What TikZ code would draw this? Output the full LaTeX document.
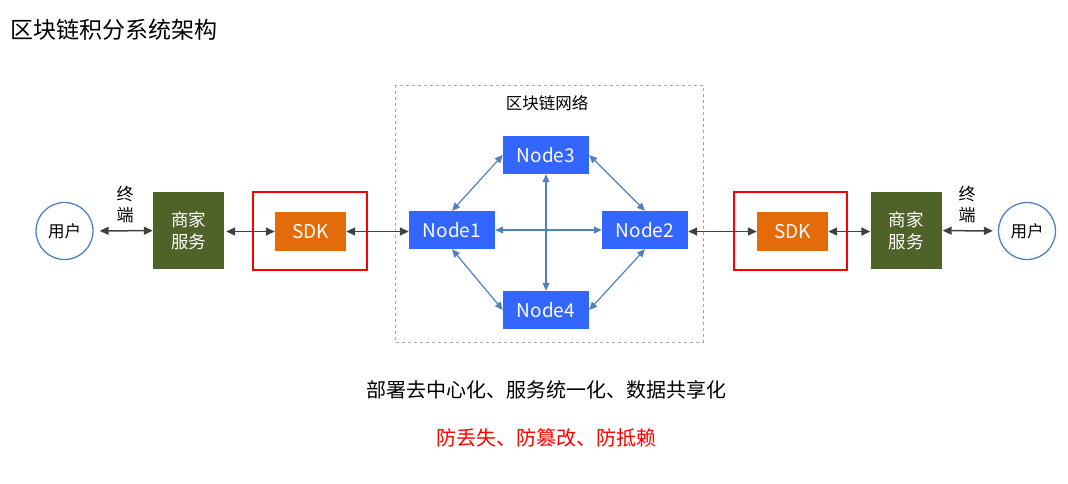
\documentclass[tikz,border=0pt]{standalone}
\usepackage{fontspec}
\setmainfont{Noto Sans CJK SC}
\usetikzlibrary{arrows.meta}
\definecolor{shopgreen}{HTML}{4F6228}
\definecolor{sdkorange}{HTML}{E36C09}
\definecolor{nodeblue}{HTML}{3366FF}
\definecolor{linkblue}{HTML}{4F81BD}
\definecolor{wiregray}{HTML}{404040}

\begin{document}
\begin{tikzpicture}[x=1pt,y=-1pt,
		user/.style={circle,draw=linkblue,line width=1.3pt,minimum size=57pt,inner sep=0pt,font=\fontsize{16.5}{19}\selectfont},
		shop/.style={fill=shopgreen,text=white,minimum width=71pt,minimum height=77pt,inner sep=0pt,align=center,font=\fontsize{17.5}{22}\selectfont},
		sdk/.style={fill=sdkorange,text=white,minimum width=71pt,minimum height=39pt,inner sep=0pt,font=\fontsize{19}{20}\selectfont},
		chain/.style={fill=nodeblue,text=white,minimum width=86pt,minimum height=38pt,inner sep=0pt,font=\fontsize{19}{20}\selectfont},
		frame/.style={draw=red,line width=1.2pt},
		wire/.style={{Triangle[length=9pt,width=8pt]}-{Triangle[length=9pt,width=8pt]},wiregray,line width=1.5pt},
		link/.style={{Triangle[length=8pt,width=7pt]}-{Triangle[length=8pt,width=7pt]},linkblue,line width=1.2pt},
		term/.style={align=center,font=\fontsize{17}{21}\selectfont}]
	
	\useasboundingbox (0,0) rectangle (1068,483);
	
	% title
	\node[anchor=west,font=\fontsize{23}{26}\selectfont] (title) at (7,30) {区块链积分系统架构};
	
	% blockchain network frame
	\draw[gray!70,dashed,line width=0.6pt] (395,85) rectangle (703,342);
	\node[font=\fontsize{16.5}{20}\selectfont] (net) at (547,103) {区块链网络};
	
	% chain nodes
	\node[chain] (node1) at (452,230) {Node1};
	\node[chain] (node2) at (645,230) {Node2};
	\node[chain] (node3) at (546,155) {Node3};
	\node[chain] (node4) at (546,310) {Node4};
	
	\draw[link] (node1.north) -- (node3.west);
	\draw[link] (node3.east) -- (node2.north);
	\draw[link] (node1.south) -- (node4.west);
	\draw[link] (node4.east) -- (node2.south);
	\draw[link] (node1.east) -- (node2.west);
	\draw[link] (node3.south) -- (node4.north);
	
	% left side
	\node[user] (userL) at (64.5,231) {用户};
	\node[shop] (shopL) at (188.5,230.5) {商家\\服务};
	\draw[frame] (253,192) rectangle (367,270);
	\node[sdk] (sdkL) at (310.5,231.5) {SDK};
	\node[term] (termL) at (125,205) {终\\端};
	
	\draw[wire,shorten <=6pt] (userL) -- (shopL);
	\draw[wire,shorten <=2pt] (shopL.east |- sdkL) -- (sdkL);
	\draw[wire] (sdkL) -- (node1.west |- sdkL);
	
	% right side
	\node[sdk] (sdkR) at (792.5,231.5) {SDK};
	\draw[frame] (734,192) rectangle (847,270);
	\node[shop] (shopR) at (906,230.5) {商家\\服务};
	\node[user] (userR) at (1027,231) {用户};
	\node[term] (termR) at (967,205) {终\\端};
	
	\draw[wire] (node2.east |- sdkR) -- (sdkR);
	\draw[wire] (sdkR) -- (shopR.west |- sdkR);
	\draw[wire,shorten <=1pt,shorten >=5pt] (shopR) -- (userR);
	
	% summary
	\node[font=\fontsize{20}{24}\selectfont] (goal) at (546,390) {部署去中心化、服务统一化、数据共享化};
	\node[font=\fontsize{20}{24}\selectfont,text=red] (guard) at (546,438) {防丢失、防篡改、防抵赖};
	
\end{tikzpicture}
\end{document}
